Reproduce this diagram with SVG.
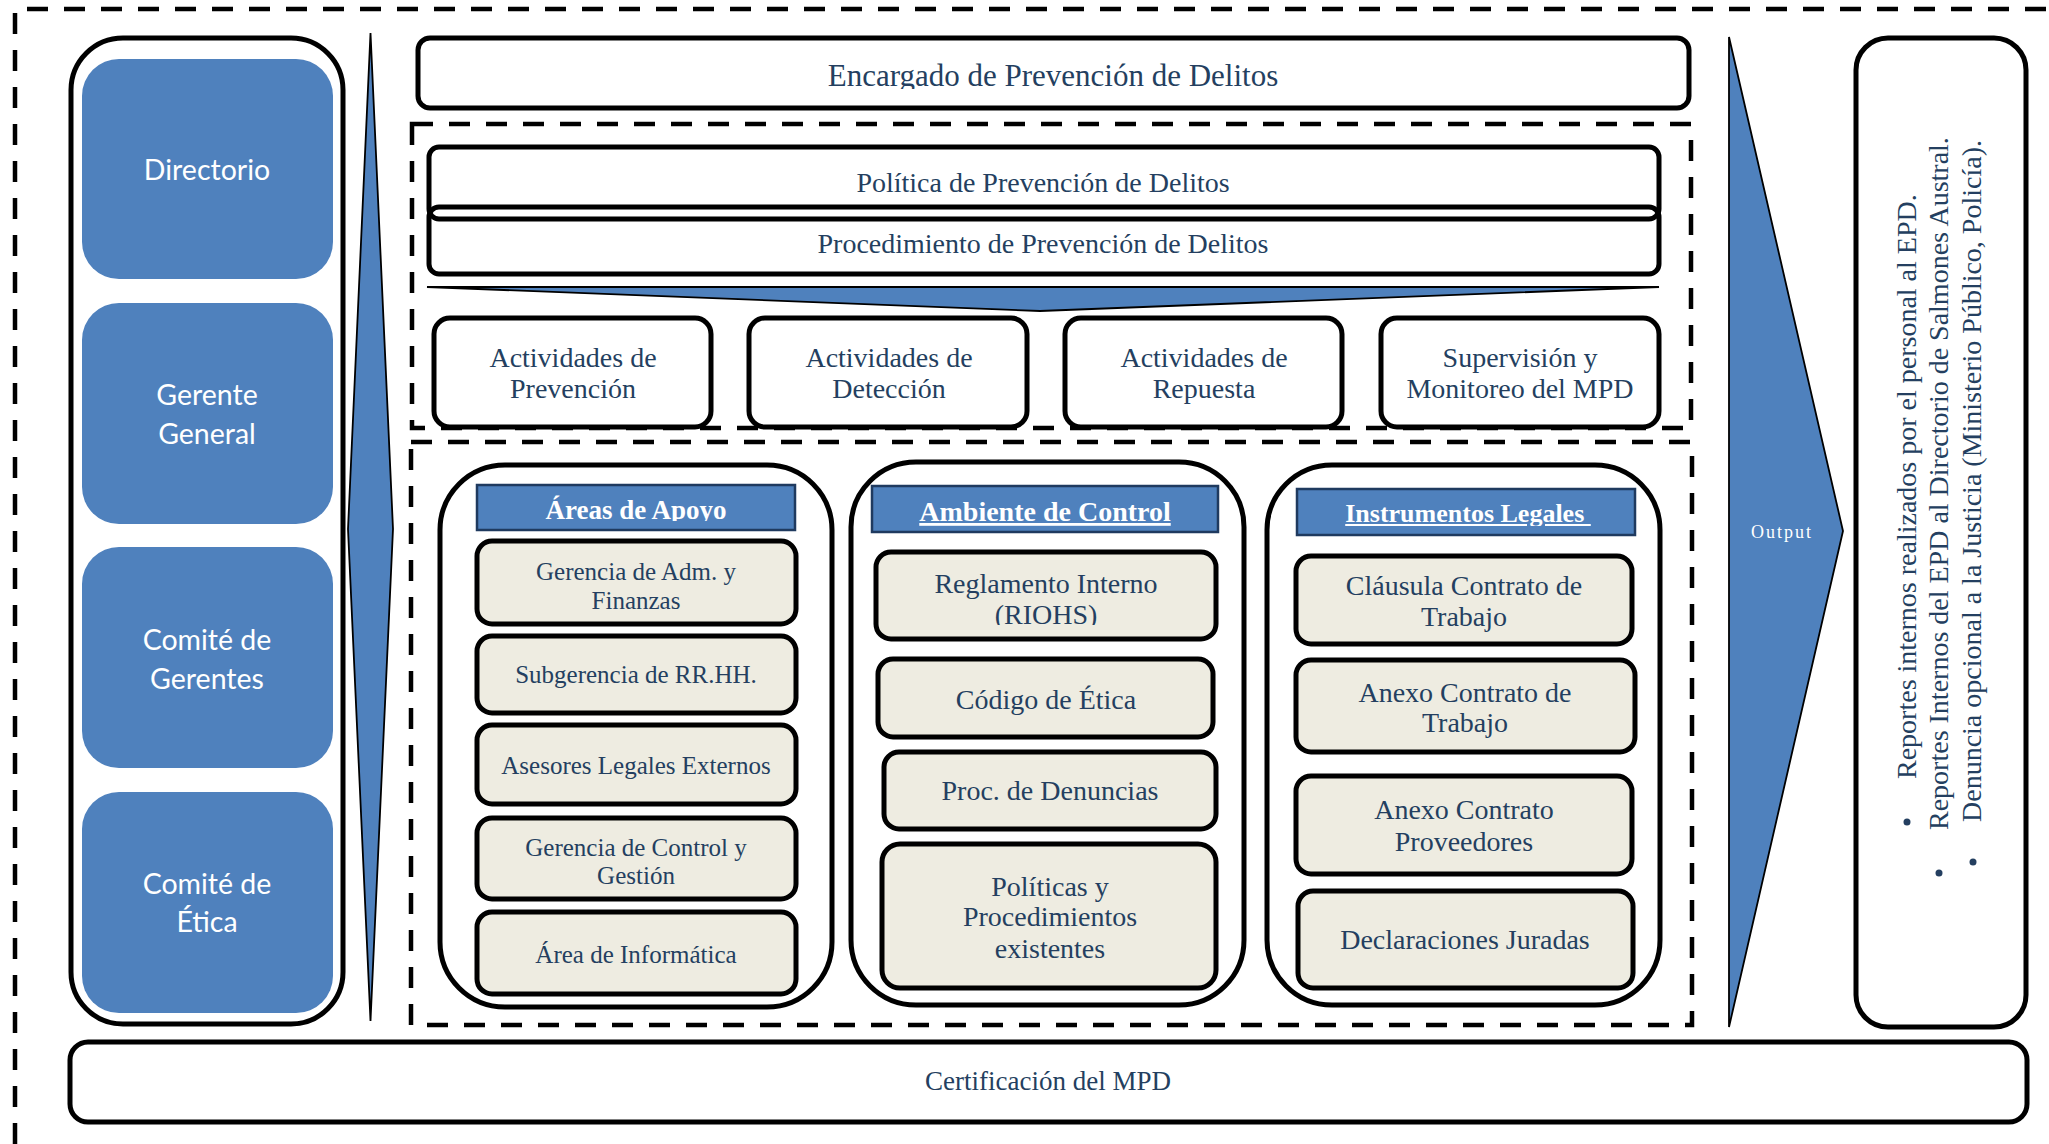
<svg xmlns="http://www.w3.org/2000/svg" width="2049" height="1144" viewBox="0 0 2049 1144">
<style>
.t{font-family:"Liberation Serif","Times New Roman",serif;fill:#243F60;text-anchor:middle}
.f25{font-size:25px}.f28{font-size:28px}.f27{font-size:27px}.f31{font-size:31px}
.h{font-family:"Liberation Serif","Times New Roman",serif;fill:#fff;font-weight:bold;text-anchor:middle}
.sans{font-family:Lato,"Noto Sans",sans-serif;fill:#fff;font-size:28.5px;text-anchor:middle}
.box{fill:#fff;stroke:#000;stroke-width:5}
.ln{fill:none;stroke:#000;stroke-width:5}
.ibox{fill:#EEECE1;stroke:#000;stroke-width:5}
.blue{fill:#4F81BD}
.hdr{fill:#4F81BD;stroke:#1F3A5F;stroke-width:2.5}
.dash{fill:none;stroke:#000;stroke-width:4.5;stroke-dasharray:21 16}
.arr{fill:#4F81BD;stroke:#000;stroke-width:1.8;stroke-linejoin:miter}
</style>
<defs>
<clipPath id="cEnc"><rect x="418" y="38" width="1271" height="51"/></clipPath>
<clipPath id="cAreas"><rect x="477" y="485" width="318" height="36"/></clipPath>
<clipPath id="cInstr"><rect x="1297" y="489" width="338" height="37"/></clipPath>
<clipPath id="cRiohs"><rect x="876" y="552" width="340" height="73"/></clipPath>
</defs>
<rect width="2049" height="1144" fill="#fff"/>

<!-- outer dashed frame -->
<path class="dash" d="M15,1144 V9 H2049"/>

<!-- left hierarchy panel -->
<g id="left-panel">
<rect class="box" x="71" y="38" width="272" height="986" rx="52"/>
</g>
<g id="directorio">
<rect class="blue" x="82" y="59" width="251" height="220" rx="37"/>
<text class="sans" x="207" y="180">Directorio</text>
</g>
<g id="gerente-general">
<rect class="blue" x="82" y="303" width="251" height="221" rx="37"/>
<text class="sans" x="207" y="405">Gerente</text>
<text class="sans" x="207" y="444">General</text>
</g>
<g id="comite-gerentes">
<rect class="blue" x="82" y="547" width="251" height="221" rx="37"/>
<text class="sans" x="207" y="650">Comité de</text>
<text class="sans" x="207" y="689">Gerentes</text>
</g>
<g id="comite-etica">
<rect class="blue" x="82" y="792" width="251" height="221" rx="37"/>
<text class="sans" x="207" y="894">Comité de</text>
<text class="sans" x="207" y="932">Ética</text>
</g>

<!-- dashed groups -->
<rect class="dash" x="412" y="124" width="1279" height="304"/>
<rect class="dash" x="411" y="442" width="1281" height="583"/>

<g id="encargado">
<rect class="box" x="418" y="38" width="1271" height="70" rx="12"/>
<text class="t f31" x="1053" y="86" clip-path="url(#cEnc)">Encargado de Prevención de Delitos</text>
</g>

<g id="politica-procedimiento">
<rect x="429" y="147" width="1230" height="72" rx="10" fill="#fff"/>
<rect x="429" y="207" width="1230" height="67" rx="10" fill="#fff"/>
<rect class="ln" x="429" y="147" width="1230" height="72" rx="10"/>
<rect class="ln" x="429" y="207" width="1230" height="67" rx="10"/>
<text class="t f28" x="1043" y="192">Política de Prevención de Delitos</text>
<text class="t f28" x="1043" y="253">Procedimiento de Prevención de Delitos</text>
</g>

<g id="act-prevencion">
<rect class="box" x="434" y="318" width="277" height="109" rx="16"/>
<text class="t f28" x="573" y="367">Actividades de</text>
<text class="t f28" x="573" y="398">Prevención</text>
</g>
<g id="act-deteccion">
<rect class="box" x="749" y="318" width="278" height="109" rx="16"/>
<text class="t f28" x="889" y="367">Actividades de</text>
<text class="t f28" x="889" y="398">Detección</text>
</g>
<g id="act-repuesta">
<rect class="box" x="1065" y="318" width="277" height="109" rx="16"/>
<text class="t f28" x="1204" y="367">Actividades de</text>
<text class="t f28" x="1204" y="398">Repuesta</text>
</g>
<g id="supervision">
<rect class="box" x="1381" y="318" width="278" height="109" rx="16"/>
<text class="t f28" x="1520" y="367">Supervisión y</text>
<text class="t f28" x="1520" y="398">Monitoreo del MPD</text>
</g>

<!-- Áreas de Apoyo -->
<g id="areas-apoyo">
<rect class="box" x="440" y="465" width="392" height="542" rx="65"/>
<rect class="hdr" x="477" y="485" width="318" height="45"/>
<text class="h f27" x="636" y="519" clip-path="url(#cAreas)">Áreas de Apoyo</text>
</g>
<g id="gerencia-adm">
<rect class="ibox" x="477" y="541" width="319" height="83" rx="15"/>
<text class="t f25" x="636" y="580">Gerencia de Adm. y</text>
<text class="t f25" x="636" y="609">Finanzas</text>
</g>
<g id="subgerencia-rrhh">
<rect class="ibox" x="477" y="636" width="319" height="77" rx="15"/>
<text class="t f25" x="636" y="683">Subgerencia de RR.HH.</text>
</g>
<g id="asesores">
<rect class="ibox" x="477" y="725" width="319" height="79" rx="15"/>
<text class="t f25" x="636" y="774">Asesores Legales Externos</text>
</g>
<g id="gerencia-control">
<rect class="ibox" x="477" y="818" width="319" height="81" rx="15"/>
<text class="t f25" x="636" y="856">Gerencia de Control y</text>
<text class="t f25" x="636" y="884">Gestión</text>
</g>
<g id="area-informatica">
<rect class="ibox" x="477" y="912" width="319" height="82" rx="15"/>
<text class="t f25" x="636" y="963">Área de Informática</text>
</g>

<!-- Ambiente de Control -->
<g id="ambiente-control">
<rect class="box" x="851" y="462" width="393" height="543" rx="65"/>
<rect class="hdr" x="872" y="486" width="346" height="46"/>
<text class="h f28" x="1045" y="521" text-decoration="underline">Ambiente de Control</text>
</g>
<g id="reglamento">
<rect class="ibox" x="876" y="552" width="340" height="87" rx="15"/>
<text class="t f28" x="1046" y="593">Reglamento Interno</text>
<text class="t f28" x="1046" y="624" clip-path="url(#cRiohs)">(RIOHS)</text>
</g>
<g id="codigo-etica">
<rect class="ibox" x="878" y="659" width="335" height="78" rx="15"/>
<text class="t f28" x="1046" y="709">Código de Ética</text>
</g>
<g id="proc-denuncias">
<rect class="ibox" x="884" y="752" width="332" height="77" rx="15"/>
<text class="t f28" x="1050" y="800">Proc. de Denuncias</text>
</g>
<g id="politicas-procedimientos">
<rect class="ibox" x="882" y="844" width="334" height="144" rx="18"/>
<text class="t f28" x="1050" y="896">Políticas y</text>
<text class="t f28" x="1050" y="926">Procedimientos</text>
<text class="t f28" x="1050" y="958">existentes</text>
</g>

<!-- Instrumentos Legales -->
<g id="instrumentos-legales">
<rect class="box" x="1267" y="465" width="393" height="540" rx="65"/>
<rect class="hdr" x="1297" y="489" width="338" height="46"/>
<text class="h" font-size="26" x="1468" y="522" text-decoration="underline" xml:space="preserve" clip-path="url(#cInstr)">Instrumentos Legales </text>
</g>
<g id="clausula">
<rect class="ibox" x="1296" y="556" width="336" height="88" rx="15"/>
<text class="t f28" x="1464" y="595">Cláusula Contrato de</text>
<text class="t f28" x="1464" y="626">Trabajo</text>
</g>
<g id="anexo-trabajo">
<rect class="ibox" x="1296" y="660" width="339" height="92" rx="15"/>
<text class="t f28" x="1465" y="702">Anexo Contrato de</text>
<text class="t f28" x="1465" y="732">Trabajo</text>
</g>
<g id="anexo-proveedores">
<rect class="ibox" x="1296" y="776" width="336" height="98" rx="15"/>
<text class="t f28" x="1464" y="819">Anexo Contrato</text>
<text class="t f28" x="1464" y="851">Proveedores</text>
</g>
<g id="declaraciones">
<rect class="ibox" x="1298" y="891" width="335" height="97" rx="15"/>
<text class="t f28" x="1465" y="949">Declaraciones Juradas</text>
</g>

<!-- arrows -->
<g id="connectors">
<polygon class="arr" points="370.5,33 393,529 370.5,1021 348,529"/>
<polygon class="arr" points="427,287 1659,287 1040,311"/>
<polygon class="arr" points="1729,37 1843,531 1729,1027"/>
<text x="1782" y="538" font-family="Liberation Serif, serif" font-size="18" letter-spacing="2" fill="#fff" text-anchor="middle">Output</text>
</g>

<!-- outputs box -->
<g id="outputs">
<rect class="box" x="1856" y="38" width="170" height="989" rx="32"/>
<circle cx="1907" cy="822" r="3.5" fill="#243F60"/>
<circle cx="1939" cy="873" r="3.5" fill="#243F60"/>
<circle cx="1973" cy="862" r="3.5" fill="#243F60"/>
<text class="f28" font-family="Liberation Serif, serif" fill="#243F60" transform="translate(1916,779) rotate(-90)">Reportes internos realizados por el personal al EPD.</text>
<text class="f28" font-family="Liberation Serif, serif" fill="#243F60" transform="translate(1948,830) rotate(-90)">Reportes Internos del EPD al Directorio de Salmones Austral.</text>
<text class="f28" font-family="Liberation Serif, serif" fill="#243F60" transform="translate(1981,822) rotate(-90)">Denuncia opcional a la Justicia (Ministerio Público, Policía).</text>
</g>

<!-- certification -->
<g id="certificacion">
<rect class="box" x="70" y="1042" width="1957" height="80" rx="18"/>
<text class="t f27" x="1048" y="1090">Certificación del MPD</text>
</g>
</svg>
